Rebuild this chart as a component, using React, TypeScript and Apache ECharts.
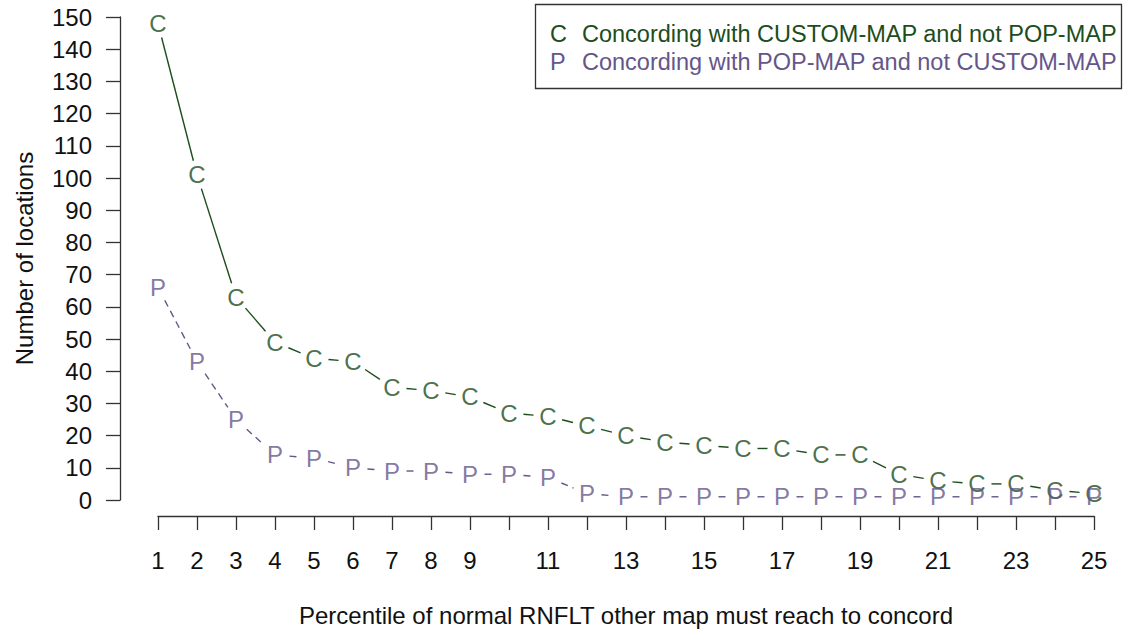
import React, { useEffect, useRef } from "react";
import * as echarts from "echarts";

const percentiles = [1, 2, 3, 4, 5, 6, 7, 8, 9, 10, 11, 12, 13, 14, 15, 16, 17, 18, 19, 20, 21, 22, 23, 24, 25];
const customOnly = [148, 101, 63, 49, 44, 43, 35, 34, 32, 27, 26, 23, 20, 18, 17, 16, 16, 14, 14, 8, 6, 5, 5, 3, 2];
const popOnly = [66, 43, 25, 14, 13, 10, 9, 9, 8, 8, 7, 2, 1, 1, 1, 1, 1, 1, 1, 1, 1, 1, 1, 1, 1];
const xTickLabels = [1, 2, 3, 4, 5, 6, 7, 8, 9, 11, 13, 15, 17, 19, 21, 23, 25];
const legendLabels = [
  "Concording with CUSTOM-MAP and not POP-MAP",
  "Concording with POP-MAP and not CUSTOM-MAP",
];
const seriesLetters = ["C", "P"];
const xTitle = "Percentile of normal RNFLT other map must reach to concord";
const yTitle = "Number of locations";

const GREEN = "#1c4d1c";
const PURPLE = "#65568a";
const AXIS = "#333333";
const FONT = "'Liberation Sans', Arial, sans-serif";
const FS = 24;
const LFS = 23.5;
const GAP = 14.5;

function segments(values: number[]) {
  const out: number[][] = [];
  for (let i = 0; i < values.length - 1; i++) {
    out.push([percentiles[i], values[i], percentiles[i + 1], values[i + 1]]);
  }
  return out;
}

function segmentSeries(values: number[], color: string, dash: number[] | null) {
  return {
    type: "custom",
    coordinateSystem: "cartesian2d",
    data: segments(values),
    encode: { x: [0, 2], y: [1, 3] },
    silent: true,
    renderItem: (_params: any, api: any) => {
      const p1 = api.coord([api.value(0), api.value(1)]);
      const p2 = api.coord([api.value(2), api.value(3)]);
      const dx = p2[0] - p1[0];
      const dy = p2[1] - p1[1];
      const len = Math.sqrt(dx * dx + dy * dy);
      if (len <= 2 * GAP) return { type: "group", children: [] };
      const ux = dx / len;
      const uy = dy / len;
      return {
        type: "line",
        shape: {
          x1: p1[0] + ux * GAP,
          y1: p1[1] + uy * GAP,
          x2: p2[0] - ux * GAP,
          y2: p2[1] - uy * GAP,
        },
        style: {
          stroke: color,
          lineWidth: 1.4,
          lineDash: dash || undefined,
          fill: null,
        },
      };
    },
  };
}

function letterSeries(values: number[], letter: string, color: string) {
  return {
    type: "scatter",
    data: percentiles.map((x, i) => [x, values[i]]),
    symbol: "circle",
    symbolSize: 1,
    itemStyle: { color: "rgba(0,0,0,0)" },
    silent: true,
    label: {
      show: true,
      position: "inside",
      formatter: letter,
      color,
      fontSize: FS,
      fontFamily: FONT,
    },
  };
}

export default function App() {
  const ref = useRef<HTMLDivElement>(null);
  useEffect(() => {
    if (!ref.current) return;
    const chart = echarts.init(ref.current, null, { renderer: "svg" });
    const axisLineStyle = { color: AXIS, width: 1.3 };
    const option: any = {
      animation: false,
      backgroundColor: "#ffffff",
      grid: { left: 158, right: 31, top: 17, bottom: 132 },
      xAxis: {
        type: "value",
        min: 1,
        max: 25,
        interval: 1,
        offset: 16,
        axisLine: { show: true, onZero: false, lineStyle: axisLineStyle },
        axisTick: { show: true, length: 14, lineStyle: axisLineStyle },
        axisLabel: {
          margin: 32,
          fontSize: FS,
          fontFamily: FONT,
          color: "#111111",
          formatter: (v: number) => (xTickLabels.indexOf(v) >= 0 ? String(v) : ""),
        },
        splitLine: { show: false },
      },
      yAxis: {
        type: "value",
        min: 0,
        max: 150,
        interval: 10,
        offset: 38,
        axisLine: { show: true, onZero: false, lineStyle: axisLineStyle },
        axisTick: { show: true, length: 14, lineStyle: axisLineStyle },
        axisLabel: {
          margin: 28,
          fontSize: FS,
          fontFamily: FONT,
          color: "#111111",
        },
        splitLine: { show: false },
      },
      series: [
        segmentSeries(customOnly, GREEN, null),
        segmentSeries(popOnly, PURPLE, [7, 5]),
        letterSeries(customOnly, seriesLetters[0], GREEN),
        letterSeries(popOnly, seriesLetters[1], PURPLE),
      ],
      graphic: [
        {
          type: "text",
          x: 24,
          y: 258.5,
          rotation: Math.PI / 2,
          style: {
            text: yTitle,
            fontSize: FS,
            fontFamily: FONT,
            fill: "#111111",
            align: "center",
            verticalAlign: "middle",
          },
        },
        {
          type: "text",
          x: 626,
          y: 615,
          style: {
            text: xTitle,
            fontSize: FS,
            fontFamily: FONT,
            fill: "#111111",
            align: "center",
            verticalAlign: "middle",
          },
        },
        {
          type: "rect",
          shape: { x: 535.5, y: 4.5, width: 586, height: 84 },
          style: { fill: "#ffffff", stroke: AXIS, lineWidth: 1.3 },
        },
        {
          type: "text",
          x: 550,
          y: 34,
          style: { text: seriesLetters[0], fontSize: LFS, fontFamily: FONT, fill: GREEN, align: "left", verticalAlign: "middle" },
        },
        {
          type: "text",
          x: 582,
          y: 34,
          style: { text: legendLabels[0], fontSize: LFS, fontFamily: FONT, fill: GREEN, align: "left", verticalAlign: "middle" },
        },
        {
          type: "text",
          x: 550,
          y: 62,
          style: { text: seriesLetters[1], fontSize: LFS, fontFamily: FONT, fill: PURPLE, align: "left", verticalAlign: "middle" },
        },
        {
          type: "text",
          x: 582,
          y: 62,
          style: { text: legendLabels[1], fontSize: LFS, fontFamily: FONT, fill: PURPLE, align: "left", verticalAlign: "middle" },
        },
      ],
    };
    chart.setOption(option);
    return () => chart.dispose();
  }, []);
  return (
    <div
      ref={ref}
      style={{ position: "fixed", left: 0, top: 0, width: 1125, height: 632, background: "#fff" }}
    />
  );
}
